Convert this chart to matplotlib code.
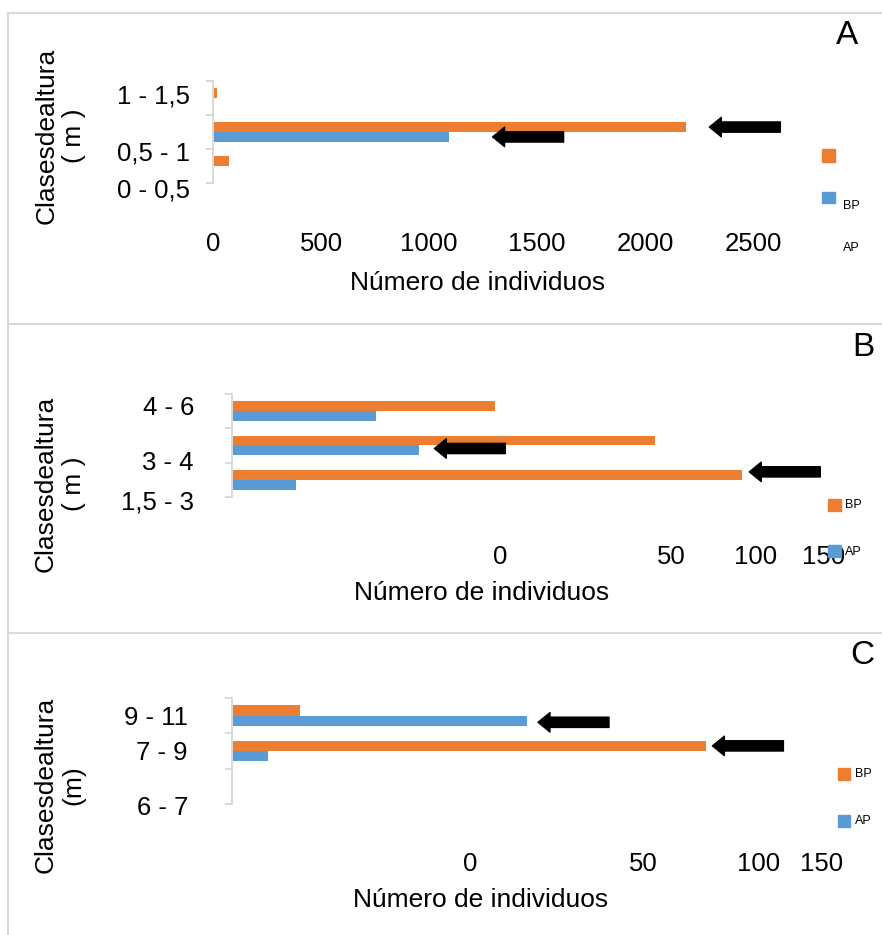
import matplotlib
matplotlib.use("Agg")
import matplotlib.pyplot as plt
from matplotlib.transforms import offset_copy
from matplotlib.patches import Rectangle
from matplotlib.lines import Line2D
import numpy as np

plt.rcParams['font.family'] = ['Liberation Sans', 'DejaVu Sans']

# ---------------- data ----------------
series = ["BP", "AP"]
cats_A = ["0 - 0,5", "0,5 - 1", "1 - 1,5"]
bp_A = [75, 2190, 20]
ap_A = [2, 1090, 3]
cats_B = ["1,5 - 3", "3 - 4", "4 - 6"]
bp_B = [128, 106, 66]
ap_B = [16, 47, 36]
cats_C = ["6 - 7", "7 - 9", "9 - 11"]
bp_C = [0, 119, 17]
ap_C = [0, 9, 74]
xticks_A = [0, 500, 1000, 1500, 2000, 2500]
xticklabels_BC = ["0", "50", "100", "150"]

# ---------------- style / layout ----------------
W, H = 882, 935
ORANGE = "#ED7D31"
BLUE = "#5B9BD5"
GRID = "#d9d9d9"
FS = 18.5
FSL = 19

fig = plt.figure(figsize=(W / 100, H / 100), dpi=100)


def rect(l, t, r, b):
    return [l / W, 1 - b / H, (r - l) / W, (b - t) / H]


panels = [
    dict(box=(213, 81, 829, 183), cats=cats_A, bp=bp_A, ap=ap_A, xlim=(0, 2850),
         xt=xticks_A, xtl=[str(v) for v in xticks_A], pad=35,
         laby=[-0.71, 0.38, 2.03], labgap=23,
         xlab=(0.430, -0.98), ylab=("Clasesdealtura\n( m )", -0.248, 0.46),
         arrows=[("BP", 1, 23, 0), ("AP", 1, 44, 0)],
         letter=("A", 847, 35),
         leg=[(822, 149, 835, 162, ORANGE), (822, 192, 835, 203, BLUE)],
         legtxt=[("BP", 843, 206), ("AP", 843, 248)]),
    dict(box=(232, 394, 830, 497), cats=cats_B, bp=bp_B, ap=ap_B, xlim=(0, 150),
         xt=[67.2, 110.1, 131.4, 148.5], xtl=xticklabels_BC, pad=34.5,
         laby=[-0.65, 0.49, 2.09], labgap=38,
         xlab=(0.418, -0.932), ylab=("Clasesdealtura\n( m )", -0.288, 0.126),
         arrows=[("AP", 1, 15, 2), ("BP", 0, 7, 3)],
         letter=("B", 863, 348),
         leg=[(828, 499, 841, 511, ORANGE), (828, 545, 841, 557, BLUE)],
         legtxt=[("BP", 845, 505), ("AP", 845, 552)]),
    dict(box=(232, 698, 830, 804), cats=cats_C, bp=bp_C, ap=ap_C, xlim=(0, 150),
         xt=[59.7, 103.1, 132.2, 148.0], xtl=xticklabels_BC, pad=34.5,
         laby=[-0.61, 0.94, 1.93], labgap=44,
         xlab=(0.415, -0.906), ylab=("Clasesdealtura\n(m)", -0.289, 0.18),
         arrows=[("AP", 2, 11, -1.5), ("BP", 1, 6, 0)],
         letter=("C", 862, 656),
         leg=[(838, 768, 850, 780, ORANGE), (838, 815, 850, 827, BLUE)],
         legtxt=[("BP", 855, 774), ("AP", 855, 821)]),
]

BH = 0.29
for p in panels:
    ax = fig.add_axes(rect(*p["box"]))
    y = np.arange(len(p["cats"]))
    vals = {"BP": p["bp"], "AP": p["ap"]}
    ax.barh(y + BH / 2, p["bp"], height=BH, color=ORANGE, label="BP")
    ax.barh(y - BH / 2, p["ap"], height=BH, color=BLUE, label="AP")
    ax.set_xlim(*p["xlim"])
    ax.set_ylim(-0.5, len(p["cats"]) - 0.5)
    for s in ["top", "right", "bottom"]:
        ax.spines[s].set_visible(False)
    ax.spines["left"].set_color(GRID)
    ax.spines["left"].set_linewidth(1.4)
    ax.set_yticks(np.arange(len(p["cats"]) + 1) - 0.5)
    ax.set_yticklabels([])
    ax.tick_params(axis="y", length=5, width=1.4, color=GRID, direction="out")
    ax.set_xticks(p["xt"])
    ax.set_xticklabels(p["xtl"], fontsize=FS)
    ax.tick_params(axis="x", length=0, pad=p["pad"])
    # category labels
    for lab, yy in zip(p["cats"], p["laby"]):
        ax.annotate(lab, xy=(0, yy), xycoords=ax.get_yaxis_transform(),
                    xytext=(-p["labgap"], 0), textcoords="offset pixels",
                    ha="right", va="center", fontsize=FS, annotation_clip=False)
    ax.set_xlabel("Número de individuos", fontsize=FSL, va="center")
    ax.xaxis.set_label_coords(*p["xlab"])
    ax.set_ylabel(p["ylab"][0], fontsize=FSL, va="center", ha="center",
                  multialignment="center", linespacing=1.2)
    ax.yaxis.set_label_coords(p["ylab"][1], p["ylab"][2])
    # arrows pointing at bars
    for ser, idx, gap, dy in p["arrows"]:
        yc = idx + (BH / 2 if ser == "BP" else -BH / 2)
        tr = offset_copy(ax.transData, fig=fig, x=gap, y=dy, units="dots")
        ax.annotate("", xy=(vals[ser][idx], yc), xycoords=tr,
                    xytext=(71, 0), textcoords="offset pixels",
                    arrowprops=dict(arrowstyle="simple,head_length=0.86,head_width=1.4,tail_width=0.74",
                                    color="black", shrinkA=0, shrinkB=0, mutation_scale=10),
                    annotation_clip=False)
    # legend (manual, as in the original)
    for (l, t, r, b, c) in p["leg"]:
        fig.add_artist(Rectangle((l / W, 1 - b / H), (r - l) / W, (b - t) / H,
                                 transform=fig.transFigure, color=c, zorder=5))
    for (txt, x, yy) in p["legtxt"]:
        fig.text(x / W, 1 - yy / H, txt, fontsize=9, ha="left", va="center", zorder=6)
    lt, lx, ly = p["letter"]
    fig.text(lx / W, 1 - ly / H, lt, fontsize=24, ha="center", va="center")

# panel borders
def fline(xs, ys):
    fig.add_artist(Line2D([x / W for x in xs], [1 - v / H for v in ys],
                          transform=fig.transFigure, color=GRID, lw=1.5))

fline([8, 8], [12.5, 935])
fline([8, 882], [12.5, 12.5])
fline([8, 882], [324, 324])
fline([8, 882], [633, 633])

fig.savefig("out.png", dpi=100)
